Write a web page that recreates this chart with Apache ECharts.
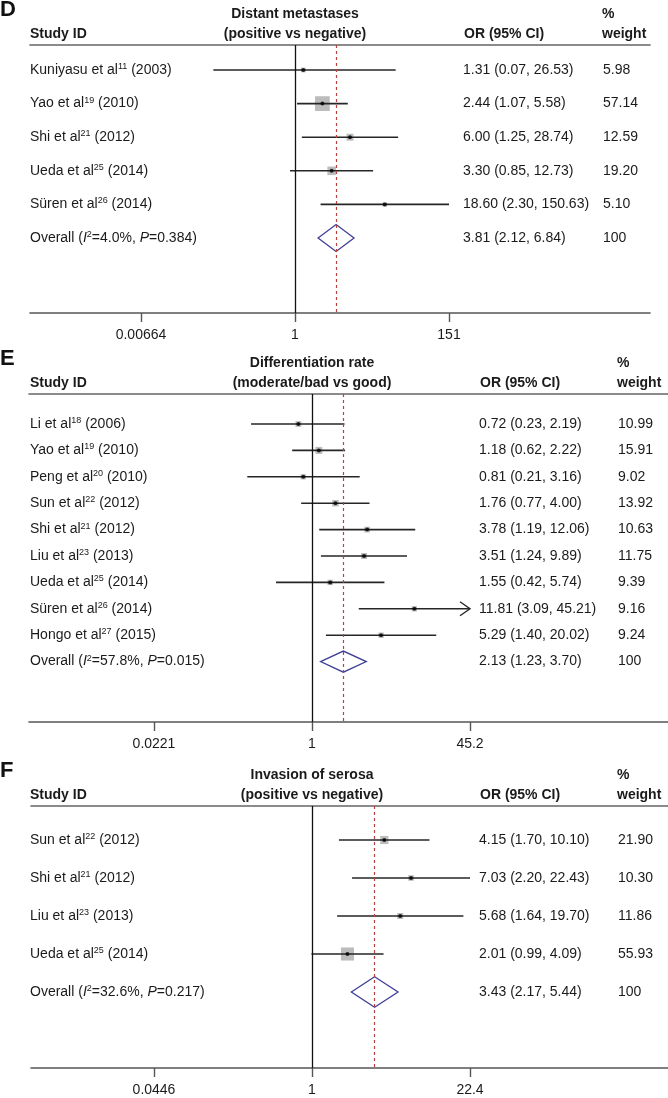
<!DOCTYPE html>
<html><head><meta charset="utf-8">
<script src="https://cdn.jsdelivr.net/npm/echarts@6/dist/echarts.min.js"></script>
<style>html,body{margin:0;padding:0;background:#fff}#c{width:668px;height:1098px}</style>
</head><body><div id="c"></div>
<script>
// ---------- Panel D data ----------
const dTitle = ['Distant metastases', '(positive vs negative)'];
const dAuthors = ['Kuniyasu et al', 'Yao et al', 'Shi et al', 'Ueda et al', 'Süren et al'];
const dRefs = ['11', '19', '21', '25', '26'];
const dYears = ['2003', '2010', '2012', '2014', '2014'];
const dOR = [1.31, 2.44, 6.00, 3.30, 18.60];
const dLow = [0.07, 1.07, 1.25, 0.85, 2.30];
const dHigh = [26.53, 5.58, 28.74, 12.73, 150.63];
const dWeight = [5.98, 57.14, 12.59, 19.20, 5.10];
const dOverall = [3.81, 2.12, 6.84];
const dHet = ['4.0%', '0.384'];
const dRange = 150.63;
const dTickLabels = ['0.00664', '1', '151'];

// ---------- Panel E data ----------
const eTitle = ['Differentiation rate', '(moderate/bad vs good)'];
const eAuthors = ['Li et al', 'Yao et al', 'Peng et al', 'Sun et al', 'Shi et al', 'Liu et al', 'Ueda et al', 'Süren et al', 'Hongo et al'];
const eRefs = ['18', '19', '20', '22', '21', '23', '25', '26', '27'];
const eYears = ['2006', '2010', '2010', '2012', '2012', '2013', '2014', '2014', '2015'];
const eOR = [0.72, 1.18, 0.81, 1.76, 3.78, 3.51, 1.55, 11.81, 5.29];
const eLow = [0.23, 0.62, 0.21, 0.77, 1.19, 1.24, 0.42, 3.09, 1.40];
const eHigh = [2.19, 2.22, 3.16, 4.00, 12.06, 9.89, 5.74, 45.21, 20.02];
const eWeight = [10.99, 15.91, 9.02, 13.92, 10.63, 11.75, 9.39, 9.16, 9.24];
const eOverall = [2.13, 1.23, 3.70];
const eHet = ['57.8%', '0.015'];
const eRange = 45.2;
const eTickLabels = ['0.0221', '1', '45.2'];

// ---------- Panel F data ----------
const fTitle = ['Invasion of serosa', '(positive vs negative)'];
const fAuthors = ['Sun et al', 'Shi et al', 'Liu et al', 'Ueda et al'];
const fRefs = ['22', '21', '23', '25'];
const fYears = ['2012', '2012', '2013', '2014'];
const fOR = [4.15, 7.03, 5.68, 2.01];
const fLow = [1.70, 2.20, 1.64, 0.99];
const fHigh = [10.10, 22.43, 19.70, 4.09];
const fWeight = [21.90, 10.30, 11.86, 55.93];
const fOverall = [3.43, 2.17, 5.44];
const fHet = ['32.6%', '0.217'];
const fRange = 22.43;
const fTickLabels = ['0.0446', '1', '22.4'];

// ---------- layout (positions / sizes only) ----------
const layouts = [
  { letter: 'D', sep: 45, first: 70, step: 33.6, axis: 313, left: 30, right: 650, nullX: 295, tickDx: 154, orX: 463, wX: 603, boxK: 1.95 },
  { letter: 'E', sep: 394, first: 424, step: 26.4, axis: 722, left: 29, right: 668, nullX: 312, tickDx: 158, orX: 479, wX: 618, boxK: 1.75 },
  { letter: 'F', sep: 806, first: 840, step: 38, axis: 1068, left: 31, right: 668, nullX: 312, tickDx: 158, orX: 479, wX: 618, boxK: 1.75 }
];

const panels = [
  { title: dTitle, authors: dAuthors, refs: dRefs, years: dYears, or: dOR, low: dLow, high: dHigh, weight: dWeight, overall: dOverall, het: dHet, range: dRange, tickLabels: dTickLabels },
  { title: eTitle, authors: eAuthors, refs: eRefs, years: eYears, or: eOR, low: eLow, high: eHigh, weight: eWeight, overall: eOverall, het: eHet, range: eRange, tickLabels: eTickLabels },
  { title: fTitle, authors: fAuthors, refs: fRefs, years: fYears, or: fOR, low: fLow, high: fHigh, weight: fWeight, overall: fOverall, het: fHet, range: fRange, tickLabels: fTickLabels }
];

const W = 668, H = 1098;
const FONT = "'Liberation Sans', Arial, Helvetica, sans-serif";
const TXT = '#1a1a1a';
const ln = Math.log;

const grids = [], xAxes = [], yAxes = [], series = [], graphics = [];

panels.forEach((p, k) => {
  const L = layouts[k];
  const n = p.authors.length;
  const R = ln(p.range);
  const ppl = L.tickDx / R; // pixels per ln unit
  const xMin = -(L.nullX - L.left) / ppl;
  const xMax = (L.right - L.nullX) / ppl;
  const yMin = -(L.first - L.sep) / L.step;
  const yMax = (L.axis - L.first) / L.step;
  const ticksLn = [-R, 0, R];

  grids.push({ left: L.left, right: W - L.right, top: L.sep, height: L.axis - L.sep, containLabel: false });

  xAxes.push({
    gridIndex: k, type: 'value', min: xMin, max: xMax, position: 'bottom',
    axisLine: { show: true, onZero: false, lineStyle: { color: '#555', width: 1.6 } },
    axisTick: { show: true, customValues: ticksLn, length: 9, inside: false, lineStyle: { color: '#555', width: 1.4 } },
    axisLabel: {
      show: true, customValues: ticksLn, margin: 15, color: TXT, fontSize: 14, fontFamily: FONT,
      formatter: (v) => {
        const i = ticksLn.findIndex(t => Math.abs(t - v) < 1e-6);
        return i >= 0 ? p.tickLabels[i] : '';
      }
    },
    splitLine: { show: false }
  });
  xAxes.push({
    gridIndex: k, type: 'value', min: xMin, max: xMax, position: 'top',
    axisLine: { show: true, onZero: false, lineStyle: { color: '#666', width: 1.6 } },
    axisTick: { show: false }, axisLabel: { show: false }, splitLine: { show: false }
  });
  yAxes.push({ gridIndex: k, type: 'value', inverse: true, min: yMin, max: yMax, show: false });

  const xi = k * 2, yi = k;

  // boxes (weight-scaled squares)
  series.push({
    type: 'scatter', xAxisIndex: xi, yAxisIndex: yi, symbol: 'rect', silent: true, z: 2,
    symbolSize: (v) => L.boxK * Math.sqrt(v[2]),
    itemStyle: { color: '#ababab' },
    data: p.or.map((v, i) => [ln(v), i, p.weight[i]])
  });

  // CI lines (clipped to plot range, arrow when exceeding)
  series.push({
    type: 'custom', xAxisIndex: xi, yAxisIndex: yi, silent: true, z: 3,
    encode: { x: [0, 1], y: 2 },
    data: p.low.map((lo, i) => [ln(lo), ln(p.high[i]), i]),
    renderItem: (params, api) => {
      const lo = Math.max(api.value(0), -R), hiRaw = api.value(1), hi = Math.min(hiRaw, R), row = api.value(2);
      const a = api.coord([lo, row]), b = api.coord([hi, row]);
      const children = [{ type: 'line', shape: { x1: a[0], y1: a[1], x2: b[0], y2: b[1] }, style: { stroke: '#262626', lineWidth: 1.6 } }];
      if (hiRaw > R + 1e-9) {
        children.push({ type: 'polyline', shape: { points: [[b[0] - 10, b[1] - 7], [b[0], b[1]], [b[0] - 10, b[1] + 7]] }, style: { stroke: '#262626', lineWidth: 1.4, fill: null } });
      }
      return { type: 'group', children };
    }
  });

  // point estimate dots + reference lines
  series.push({
    type: 'scatter', xAxisIndex: xi, yAxisIndex: yi, symbol: 'circle', symbolSize: 4, silent: true, z: 4,
    itemStyle: { color: '#000' },
    data: p.or.map((v, i) => [ln(v), i]),
    markLine: {
      silent: true, symbol: ['none', 'none'], label: { show: false }, animation: false,
      data: [
        { xAxis: 0, lineStyle: { color: '#111', width: 1.3, type: 'solid' } },
        { xAxis: ln(p.overall[0]), lineStyle: { color: '#b8403f', width: 1.2, type: [3, 3] } }
      ]
    }
  });

  // overall diamond
  series.push({
    type: 'custom', xAxisIndex: xi, yAxisIndex: yi, silent: true, z: 3,
    encode: { x: [0, 1, 2], y: 3 },
    data: [[ln(p.overall[1]), ln(p.overall[0]), ln(p.overall[2]), n]],
    renderItem: (params, api) => {
      const row = api.value(3);
      const l = api.coord([api.value(0), row]);
      const t = api.coord([api.value(1), row - 0.4]);
      const r = api.coord([api.value(2), row]);
      const b = api.coord([api.value(1), row + 0.4]);
      return { type: 'polygon', shape: { points: [l, t, r, b] }, style: { stroke: '#3f3f96', lineWidth: 1.3, fill: null } };
    }
  });

  // text columns
  const rich = {
    sup: { fontSize: 9, fontFamily: FONT, verticalAlign: 'top', lineHeight: 10, fill: TXT },
    it: { fontSize: 14, fontFamily: FONT, fontStyle: 'italic', fill: TXT }
  };
  series.push({
    type: 'custom', xAxisIndex: xi, yAxisIndex: yi, silent: true, z: 5,
    encode: { x: 0, y: 1 },
    data: Array.from({ length: n + 1 }, (_, i) => [0, i]),
    renderItem: (params, api) => {
      const i = params.dataIndex;
      const y = api.coord([0, api.value(1)])[1];
      const isO = i === n;
      const label = isO
        ? `Overall ({it|I}{sup|2}=${p.het[0]}, {it|P}=${p.het[1]})`
        : `${p.authors[i]}{sup|${p.refs[i]}} (${p.years[i]})`;
      const vals = isO ? p.overall : [p.or[i], p.low[i], p.high[i]];
      const orTxt = `${vals[0].toFixed(2)} (${vals[1].toFixed(2)}, ${vals[2].toFixed(2)})`;
      const wTxt = isO ? '100' : p.weight[i].toFixed(2);
      const base = { fontSize: 14, fontFamily: FONT, fill: TXT, verticalAlign: 'middle', align: 'left', lineHeight: 16 };
      return {
        type: 'group', children: [
          { type: 'text', x: 30, y: y, style: Object.assign({ text: label, rich }, base) },
          { type: 'text', x: L.orX, y: y, style: Object.assign({ text: orTxt }, base) },
          { type: 'text', x: L.wX, y: y, style: Object.assign({ text: wTxt }, base) }
        ]
      };
    }
  });

  // header texts
  const hb = { fontSize: 14, fontFamily: FONT, fontWeight: 'bold', fill: TXT };
  graphics.push(
    { type: 'text', left: 0, top: L.sep - 46, style: { text: L.letter, fontSize: 22, fontFamily: FONT, fontWeight: 'bold', fill: '#111' } },
    { type: 'text', x: L.nullX, y: L.sep - 31, style: Object.assign({ text: p.title[0], align: 'center', verticalAlign: 'middle' }, hb) },
    { type: 'text', x: L.nullX, y: L.sep - 11, style: Object.assign({ text: p.title[1], align: 'center', verticalAlign: 'middle' }, hb) },
    { type: 'text', x: 30, y: L.sep - 11, style: Object.assign({ text: 'Study ID', align: 'left', verticalAlign: 'middle' }, hb) },
    { type: 'text', x: L.orX + 1, y: L.sep - 11, style: Object.assign({ text: 'OR (95% CI)', align: 'left', verticalAlign: 'middle' }, hb) },
    { type: 'text', x: L.wX - 1, y: L.sep - 31, style: Object.assign({ text: '%', align: 'left', verticalAlign: 'middle' }, hb) },
    { type: 'text', x: L.wX - 1, y: L.sep - 11, style: Object.assign({ text: 'weight', align: 'left', verticalAlign: 'middle' }, hb) }
  );
});

const chart = echarts.init(document.getElementById('c'), null, { renderer: 'canvas', width: W, height: H });
chart.setOption({
  backgroundColor: '#fff',
  animation: false,
  grid: grids,
  xAxis: xAxes,
  yAxis: yAxes,
  series: series,
  graphic: graphics
});
</script>
</body></html>
